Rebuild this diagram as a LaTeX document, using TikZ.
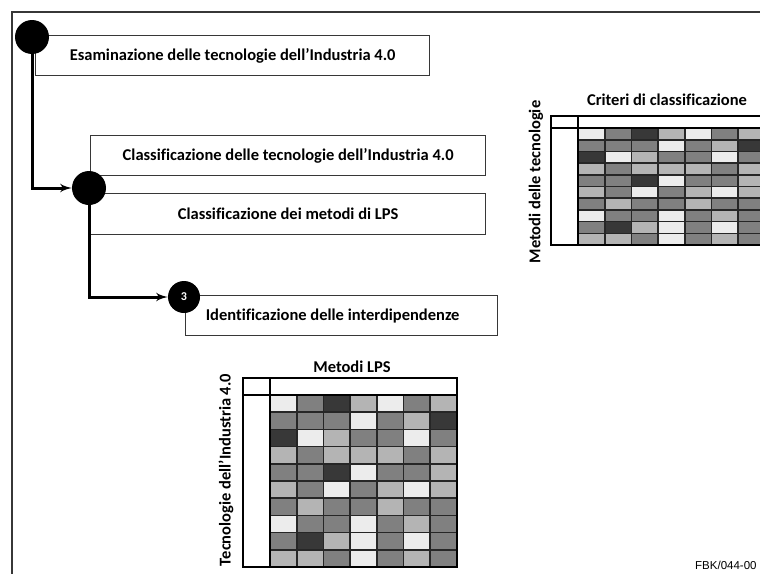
\documentclass[tikz,border=0pt]{standalone}
\usepackage{fontspec}
\setmainfont{Carlito}[Ligatures={TeX,NoCommon}]
\newfontfamily\codefont{Liberation Sans}
\definecolor{framegray}{RGB}{55,55,55}
\definecolor{shadeL}{RGB}{236,236,236}
\definecolor{shadeG}{RGB}{180,180,180}
\definecolor{shadeM}{RGB}{128,128,128}
\definecolor{shadeD}{RGB}{56,56,56}
\usetikzlibrary{
	arrows,
	positioning
}
\tikzset{
	>=latex',
	flowedge/.style={->, line width=3pt},
	stepdot/.style={circle, fill=black, minimum size=34pt, inner sep=0pt},
	stepbox/.style={draw=framegray, line width=1.3pt, anchor=north west, minimum height=40pt, font=\bfseries\fontsize{16.5}{18}\selectfont},
	headtext/.style={font=\bfseries\fontsize{16.5}{18}\selectfont},
	cell/.style={draw=black!85, line width=1.6pt}
}

\begin{document}
\begin{tikzpicture}[x=1pt, y=-1pt]
	\clip (0,0) rectangle (760,573);
	\fill[white] (0,0) rectangle (760,573);
	\draw[framegray, line width=2pt] (12,600) -- (12,12) -- (800,12);

	% steps
	\node[stepbox, minimum width=394pt] (esam) at (35,35) {Esaminazione delle tecnologie dell’Industria 4.0};
	\node[stepbox, minimum width=395pt] (classtec) at (90,135) {Classificazione delle tecnologie dell’Industria 4.0};
	\node[stepbox, minimum width=395pt, minimum height=41pt] (classlps) at (90,193) {Classificazione dei metodi di LPS};
	\node[stepbox, minimum width=312pt] (ident) at (185,295) {\hspace*{-18pt}Identificazione delle interdipendenze};
	\node[stepdot] (s1) at (32,37) {};
	\node[stepdot] (s2) at (89,188) {};
	\node[stepdot, minimum size=32pt, text=white, font=\bfseries\fontsize{12}{14}\selectfont] (s3) at (184,297) {3};
	\draw[flowedge] (s1) |- (s2);
	\draw[flowedge] (s2) |- (s3);

	% matrices
	\foreach \mx/\my/\hh/\rh in {243/378/17/17.2, 551/116/12/11.7} {
		\begin{scope}[shift={(\mx,\my)}]
			\foreach \row [count=\ri from 0] in {{L,M,D,G,L,M,G},{M,M,M,L,M,G,D},{D,L,G,M,M,L,M},{G,M,G,G,G,M,G},{M,M,D,L,M,M,G},{G,M,L,M,G,L,G},{M,G,M,M,G,M,M},{L,M,M,L,M,G,M},{M,D,G,L,M,L,M},{G,G,M,L,M,G,M}} {
				\foreach \c [count=\ci from 0] in \row {
					\filldraw[cell, fill=shade\c] ({27+\ci*26.7},{\hh+\ri*\rh}) rectangle +(26.7,\rh);
				}
			}
			\draw[line width=2.5pt] (0,0) rectangle ({27+7*26.7},{\hh+10*\rh});
			\draw[line width=2.5pt] (0,\hh) -- ({27+7*26.7},\hh) (27,0) -- (27,{\hh+10*\rh});
		\end{scope}
	}
	\node[headtext] (lpshead) at (352,367) {Metodi LPS};
	\node[headtext] (crithead) at (667,100) {Criteri di classificazione};
	\node[headtext, rotate=90] (teclabel) at (226,470) {Tecnologie dell’Industria 4.0};
	\node[headtext, rotate=90] (metlabel) at (536,182) {Metodi delle tecnologie};
	\node[font=\codefont\fontsize{11.5}{13}\selectfont, anchor=base west, inner sep=0pt] (figcode) at (695,569) {FBK/044-00};
\end{tikzpicture}
\end{document}
